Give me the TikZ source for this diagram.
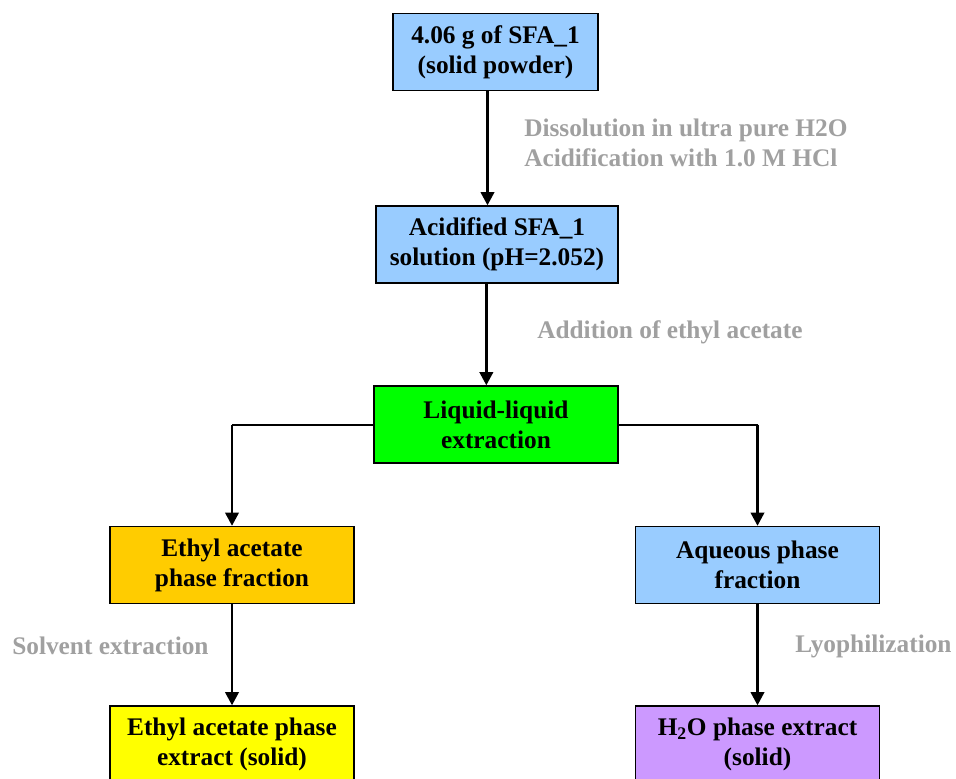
\documentclass[tikz,border=0pt]{standalone}
\usepackage{fontspec}
\setmainfont{Liberation Serif}
\usetikzlibrary{positioning, calc, arrows.meta}
\definecolor{SkyBlue}{HTML}{99CCFF}
\definecolor{BrightGreen}{HTML}{00FF00}
\definecolor{Amber}{HTML}{FFCC00}
\definecolor{Lemon}{HTML}{FFFF00}
\definecolor{Lilac}{HTML}{CC99FF}
\definecolor{StepGray}{HTML}{A0A0A0}

\begin{document}
\begin{tikzpicture}[
  x=0.75pt, y=-0.75pt,
  box/.style={
    draw=black, line width=1.2pt, align=center, inner sep=2pt,
    minimum width=183pt, minimum height=57.5pt,
    font=\fontsize{19}{22.5}\selectfont\bfseries
  },
  steplabel/.style={
    text=StepGray, align=left, inner sep=0pt,
    font=\fontsize{19}{22.5}\selectfont\bfseries
  },
  arr/.style={-{Triangle[length=10pt, width=10pt]}, line width=2.2pt},
  branch/.style={line width=1.5pt}
]
  \clip (0,0) rectangle (956,778);
  % Boxes
  \node[box, fill=SkyBlue, minimum width=153.75pt] (powder) at (495.5,52) {4.06 g of SFA\_1\\(solid powder)};
  \node[box, fill=SkyBlue, minimum width=181.5pt] (acid) at (497,244.5) {Acidified SFA\_1\\solution (pH=2.052)};
  \node[box, fill=BrightGreen] (lle) at (496,424.5) {Liquid-liquid\\extraction};
  \node[box, fill=Amber] (ethfrac) at (232,565) {Ethyl acetate\\phase fraction};
  \node[box, fill=SkyBlue] (aqfrac) at (757.5,565) {Aqueous phase\\fraction};
  \node[box, fill=Lemon] (ethext) at (232,744.5) {Ethyl acetate phase\\extract (solid)};
  \node[box, fill=Lilac] (waterext) at (757.5,744.5) {H\textsubscript{2}O phase extract\\(solid)};
  % Steps
  \node[steplabel, anchor=west] (dissolve) at (524,143) {Dissolution in ultra pure H2O\\Acidification with 1.0 M HCl};
  \node[steplabel, anchor=west] (addition) at (537,332) {Addition of ethyl acetate};
  \node[steplabel, anchor=west] (solvent) at (12,646) {Solvent extraction};
  \node[steplabel, anchor=west] (lyo) at (795,646) {Lyophilization};
  % Arrows
  \draw[arr] ([xshift=-6]powder.south) -- ([xshift=-6]powder.south |- acid.north);
  \draw[arr] ([xshift=-8]acid.south) -- ([xshift=-8]acid.south |- lle.north);
  \draw[branch] (lle.west) -- (lle.west -| ethfrac.north);
  \draw[arr] (lle.west -| ethfrac.north) -- (ethfrac.north);
  \draw[branch] (lle.east) -- (lle.east -| aqfrac.north);
  \draw[arr] (lle.east -| aqfrac.north) -- (aqfrac.north);
  \draw[arr] (ethfrac.south) -- (ethext.north);
  \draw[arr] (aqfrac.south) -- (waterext.north);
\end{tikzpicture}
\end{document}
